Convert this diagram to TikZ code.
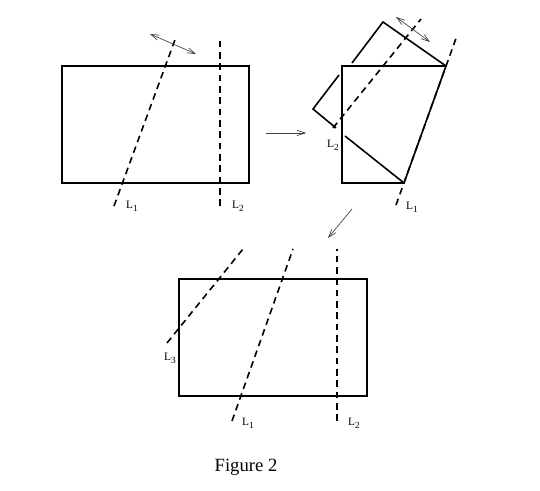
\documentclass[tikz,border=0pt]{standalone}
\usepackage{fontspec}
\setmainfont{Liberation Serif}
\usetikzlibrary{arrows.meta}
\newcommand{\lname}[1]{L\raisebox{-2.2pt}{\fontsize{7}{8}\selectfont #1}}
\begin{document}
\begin{tikzpicture}[x=0.75pt, y=-0.75pt,
  edge/.style={line width=1.2pt, line join=miter},
  cutline/.style={line width=1.2pt, dash pattern=on 5pt off 3.5pt},
  link/.style={draw=black!75, line width=0.5pt, -{Straight Barb[length=6pt,width=4pt]}},
  swing/.style={draw=black!75, line width=0.5pt, {Straight Barb[length=6pt,width=4pt]}-{Straight Barb[length=6pt,width=4pt]}},
  lbl/.style={font=\fontsize{8.5}{9}\selectfont, inner sep=0pt}]
\useasboundingbox (0,0) rectangle (540,491);
% first sheet
\draw[edge] (62,66) rectangle (249,183);
\coordinate (A1) at (114,206); \coordinate (B1) at (176,37);
\coordinate (A2) at (220,206); \coordinate (B2) at (220,37);
\draw[cutline] (A1) -- (B1);
\draw[cutline] (A2) -- (B2);
\node[lbl] (LA1) at (132,206) {\lname{1}};
\node[lbl] (LA2) at (238,206) {\lname{2}};
\coordinate (SA) at (150,34); \coordinate (SB) at (196,54);
\draw[swing] (SA) -- (SB);
% first step
\coordinate (P1) at (266,133); \coordinate (P2) at (306,133);
\draw[link] (P1) -- (P2);
% second sheet (folded along L1)
\draw[edge] (342,66) -- (446,66) -- (404,183) -- (342,183) -- cycle;
\draw[edge] (446,66) -- (383,22) -- (352,63);
\draw[edge] (339,75) -- (313,109) -- (336,128);
\draw[edge] (345,136) -- (404,183);
\coordinate (C1) at (396,205); \coordinate (D1) at (456.5,37);
\coordinate (C2) at (333,128); \coordinate (D2) at (421,19);
\draw[cutline] (C1) -- (D1);
\draw[cutline] (C2) -- (D2);
\node[lbl] (LB1) at (412,207) {\lname{1}};
\node[lbl] (LB2) at (333,145) {\lname{2}};
\coordinate (SC) at (396,17); \coordinate (SD) at (430,42);
\draw[swing] (SC) -- (SD);
% second step
\coordinate (Q1) at (352,209); \coordinate (Q2) at (328,238);
\draw[link] (Q1) -- (Q2);
% third sheet
\draw[edge] (179,279) rectangle (367,396);
\coordinate (E3) at (167,343); \coordinate (F3) at (243,249);
\coordinate (E1) at (232,421); \coordinate (F1) at (293,249);
\coordinate (E2) at (337,421); \coordinate (F2) at (337,249);
\draw[cutline] (E3) -- (F3);
\draw[cutline] (E1) -- (F1);
\draw[cutline] (E2) -- (F2);
\node[lbl] (LC3) at (170,358) {\lname{3}};
\node[lbl] (LC1) at (248,423) {\lname{1}};
\node[lbl] (LC2) at (354,423) {\lname{2}};
% caption
\node (cap) at (246,467) {\fontsize{14}{16}\selectfont Figure 2};
\end{tikzpicture}
\end{document}
